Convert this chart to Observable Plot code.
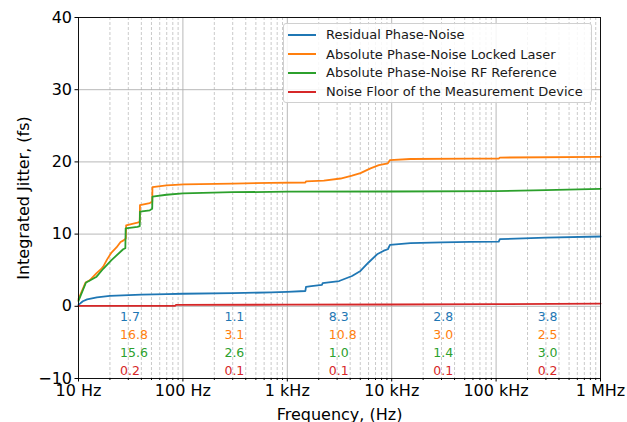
<!DOCTYPE html>
<html>
<head>
<meta charset="utf-8">
<script src="https://cdn.jsdelivr.net/npm/d3@7"></script>
<script src="https://cdn.jsdelivr.net/npm/@observablehq/plot@0.6"></script>
<style>
  html, body { margin: 0; padding: 0; background: #fff; }
  #wrap { position: relative; width: 627px; height: 422px; font-family: "DejaVu Sans", sans-serif; }
  #legend { position: absolute; left: 283px; top: 23px; width: 309px; height: 80px; box-sizing: border-box;
    border: 1px solid #d0d0d0; border-radius: 3px; background: rgba(255,255,255,0.85); }
  .lrow { position: absolute; left: 0; height: 19px; display: flex; align-items: center; font-size: 13px; color: #1a1a1a; white-space: nowrap; }
  .lrow svg { margin-left: 4px; margin-right: 10px; }
</style>
</head>
<body>
<div id="wrap"><div id="legend"></div></div>
<script>
// ---- data ----
const seriesNames = [
  "Residual Phase-Noise",
  "Absolute Phase-Noise Locked Laser",
  "Absolute Phase-Noise RF Reference",
  "Noise Floor of the Measurement Device"
];
const seriesColors = ["#1f77b4", "#ff7f0e", "#2ca02c", "#d62728"];

const blueFreq = [10, 11, 12.1, 15, 20, 40, 70, 100, 300, 700, 1000, 1490, 1510, 1700, 2150, 2180, 3140, 4170, 5020, 6000, 7250, 8400, 9190, 9630, 15100, 30000, 56900, 106000, 108600, 300000, 1000000];
const blueVal  = [0.2, 0.7, 0.95, 1.25, 1.45, 1.62, 1.7, 1.74, 1.82, 1.92, 2.0, 2.12, 2.7, 2.8, 2.98, 3.2, 3.5, 4.2, 4.9, 6.07, 7.2, 7.7, 7.9, 8.5, 8.75, 8.85, 8.93, 8.97, 9.3, 9.5, 9.67];

const orangeFreq = [10, 11.7, 12.8, 14.9, 16.3, 17.25, 18.8, 20.7, 23.1, 25.3, 26.8, 28.4, 28.6, 36.7, 38.6, 38.8, 48.2, 50.8, 51.1, 69.6, 102, 300, 688, 1490, 1510, 2240, 3240, 4170, 5020, 6270, 7530, 9190, 9630, 15100, 56900, 106000, 108600, 1000000];
const orangeVal  = [1.0, 3.3, 3.6, 4.6, 5.1, 5.5, 6.5, 7.45, 8.15, 8.9, 9.1, 9.4, 11.2, 11.6, 11.7, 14.0, 14.3, 14.5, 16.5, 16.75, 16.9, 17.0, 17.1, 17.15, 17.3, 17.4, 17.7, 18.1, 18.45, 19.1, 19.55, 19.8, 20.25, 20.4, 20.45, 20.45, 20.6, 20.7];

const greenFreq = [10, 11.8, 12.6, 14.9, 17.25, 20.7, 26.8, 28.1, 28.3, 36.7, 38.6, 38.8, 48.2, 50.8, 51.1, 69.6, 100, 300, 1000, 10000, 100000, 300000, 1000000];
const greenVal  = [0.76, 3.3, 3.5, 4.1, 5.2, 6.4, 7.9, 8.05, 10.8, 11.0, 11.1, 13.1, 13.3, 13.5, 15.2, 15.45, 15.65, 15.8, 15.87, 15.9, 15.95, 16.1, 16.27];

const redFreq = [10, 84, 86, 1000, 10000, 100000, 1000000];
const redVal  = [0.05, 0.05, 0.2, 0.22, 0.25, 0.3, 0.38];

// per-decade integrated jitter annotations
const bandStart = [25, 250, 2500, 25000, 250000];
const bandBlue   = ["1.7", "1.1", "8.3", "2.8", "3.8"];
const bandOrange = ["16.8", "3.1", "10.8", "3.0", "2.5"];
const bandGreen  = ["15.6", "2.6", "1.0", "1.4", "3.0"];
const bandRed    = ["0.2", "0.1", "0.1", "0.1", "0.2"];
const bandRowY   = [-2, -4.5, -7, -9.5];

const xMajor = [10, 100, 1000, 10000, 100000, 1000000];
const xTickLabels = ["10 Hz", "100 Hz", "1 kHz", "10 kHz", "100 kHz", "1 MHz"];
const yTicks = [-10, 0, 10, 20, 30, 40];

// ---- build ----
const xMinor = [];
for (const d of xMajor.slice(0, -1)) for (let k = 2; k <= 9; k++) xMinor.push(d * k);

const freqs = [blueFreq, orangeFreq, greenFreq, redFreq];
const vals = [blueVal, orangeVal, greenVal, redVal];
const lineMarks = freqs.map((fa, s) =>
  Plot.line(fa.map((f, i) => ({f, v: vals[s][i]})), {x: "f", y: "v", stroke: seriesColors[s], strokeWidth: 1.8})
);

const annRows = [bandBlue, bandOrange, bandGreen, bandRed];
const annData = [];
annRows.forEach((row, r) => row.forEach((t, i) => annData.push({f: bandStart[i], y: bandRowY[r], t, c: seriesColors[r]})));

const chart = Plot.plot({
  width: 627,
  height: 422,
  marginLeft: 78,
  marginRight: 27,
  marginTop: 17,
  marginBottom: 44,
  style: {fontFamily: "DejaVu Sans, sans-serif", fontSize: "16px", color: "#000", background: "transparent"},
  x: {type: "log", domain: [10, 1e6], label: null},
  y: {domain: [-10, 40], label: null},
  marks: [
    Plot.gridX(xMinor, {stroke: "#b0b0b0", strokeOpacity: 0.85, strokeDasharray: "3,2", strokeWidth: 0.8}),
    Plot.gridX(xMajor, {stroke: "#b0b0b0", strokeOpacity: 1, strokeWidth: 0.9}),
    Plot.gridY(yTicks, {stroke: "#b0b0b0", strokeOpacity: 1, strokeWidth: 0.9}),
    ...lineMarks,
    Plot.text(annData, {x: "f", y: "y", text: "t", fill: "c", textAnchor: "start", lineAnchor: "bottom", fontSize: 12.5}),
    Plot.frame({stroke: "#000", strokeWidth: 0.9}),
    Plot.axisX(xMinor, {tickSize: 2, tickFormat: () => "", label: null}),
    Plot.axisX(xMajor, {tickSize: 3.5, tickPadding: 2.5, fontSize: 16,
      tickFormat: d => xTickLabels[Math.round(Math.log10(d)) - 1],
      label: "Frequency, (Hz)", labelAnchor: "center", labelArrow: "none"}),
    Plot.axisY(yTicks, {tickSize: 3.5, tickPadding: 3, fontSize: 16,
      label: "Integrated Jitter, (fs)", labelAnchor: "center", labelArrow: "none", labelOffset: 61})
  ]
});
document.getElementById("wrap").insertBefore(chart, document.getElementById("legend"));

// legend
const legend = document.getElementById("legend");
const rowTops = [1, 20.5, 39, 58];
seriesNames.forEach((name, i) => {
  const row = document.createElement("div");
  row.className = "lrow";
  row.style.top = rowTops[i] + "px";
  row.innerHTML = `<svg width="28" height="4"><line x1="0" x2="28" y1="2" y2="2" stroke="${seriesColors[i]}" stroke-width="2"/></svg><span>${name}</span>`;
  legend.appendChild(row);
});
</script>
</body>
</html>
